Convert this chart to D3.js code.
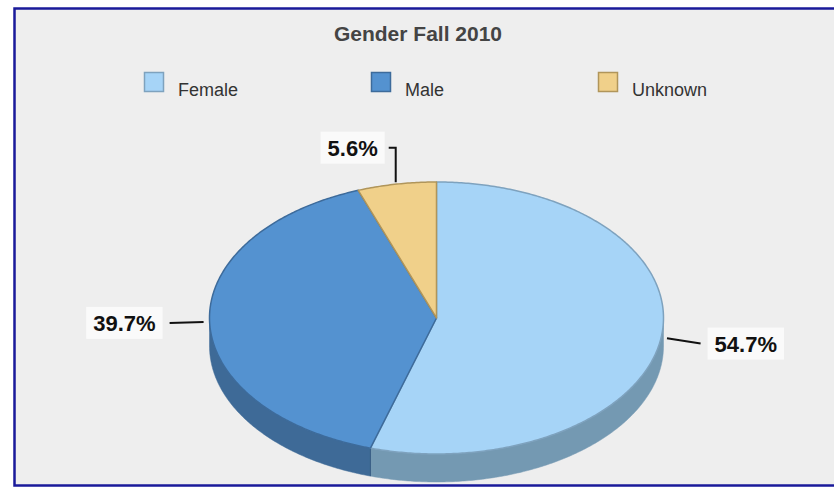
<!DOCTYPE html>
<html lang="en">
<head>
<meta charset="UTF-8">
<title>Gender Fall 2010</title>
<script src="https://cdn.jsdelivr.net/npm/d3@7"></script>
<style>
	body { margin: 0; background: #fff; }
	svg { display: block; font-family: "Liberation Sans", Arial, sans-serif; }
</style>
</head>
<body>
<div id="chart"></div>
<script>
	// data
	const categories = ['Female', 'Male', 'Unknown'];
	const shares = [54.7, 39.7, 5.6];
	const labels = ['54.7%', '39.7%', '5.6%'];

	const topColors = ['#a6d4f7', '#5492d0', '#f0d08a'];
	const sideColors = ['#7499b2', '#3e6a97', '#b89a5e'];
	const edgeColors = ['#7ea2be', '#3d6b9b', '#b0955a'];

	const width = 834, height = 488;
	const cx = 436.5, cy = 318, rx = 227, ry = 136, depth = 28;

	const svg = d3.select('#chart').append('svg')
		.attr('width', width)
		.attr('height', height);

	// frame
	svg.append('rect')
		.attr('x', 14.5).attr('y', 8.5)
		.attr('width', 840).attr('height', 477)
		.attr('fill', '#eeeeee')
		.attr('stroke', '#1a1a9a')
		.attr('stroke-width', 2.5);

	svg.append('text')
		.attr('x', 418).attr('y', 41)
		.attr('text-anchor', 'middle')
		.attr('font-size', 21).attr('font-weight', 'bold')
		.attr('fill', '#444')
		.text('Gender Fall 2010');

	// legend
	const legendX = d3.scalePoint().domain(categories).range([144, 598]);
	const lg = svg.append('g').selectAll('g').data(categories).join('g')
		.attr('transform', d => `translate(${legendX(d)},72)`);
	lg.append('rect')
		.attr('x', 0.5).attr('y', 0.5).attr('width', 19).attr('height', 19)
		.attr('fill', (d, i) => topColors[i])
		.attr('stroke', (d, i) => edgeColors[i])
		.attr('stroke-width', 1.5);
	lg.append('text')
		.attr('x', 34).attr('y', 24)
		.attr('font-size', 18).attr('fill', '#333')
		.text(d => d);

	// pie angles, clockwise from 12 o'clock
	const pie = d3.pie().sort(null).value(d => d);
	const arcs = pie(shares);

	const px = a => cx + rx * Math.sin(a);
	const py = a => cy - ry * Math.cos(a);
	const line = d3.line();

	function ellipsePts(a0, a1, dy) {
		const n = Math.max(2, Math.ceil(Math.abs(a1 - a0) / 0.01));
		return d3.range(n + 1).map(k => {
			const a = a0 + (a1 - a0) * k / n;
			return [px(a), py(a) + dy];
		});
	}

	// side walls (front half only: angles between PI/2 and 3PI/2)
	const g = svg.append('g');
	arcs.forEach((d, i) => {
		const a0 = Math.max(d.startAngle, Math.PI / 2);
		const a1 = Math.min(d.endAngle, Math.PI * 1.5);
		if (a1 <= a0) return;
		const pts = ellipsePts(a0, a1, 0).concat(ellipsePts(a1, a0, depth));
		g.append('path')
			.attr('d', line(pts) + 'Z')
			.attr('fill', sideColors[i])
			.attr('stroke', sideColors[i])
			.attr('stroke-width', 0.5);
	});
	// edge between slices on the side
	arcs.forEach((d, i) => {
		const a = d.endAngle;
		if (a > Math.PI / 2 && a < Math.PI * 1.5) {
			g.append('line')
				.attr('x1', px(a)).attr('y1', py(a))
				.attr('x2', px(a)).attr('y2', py(a) + depth)
				.attr('stroke', '#3a5f85').attr('stroke-width', 1);
		}
	});

	// top faces
	arcs.forEach((d, i) => {
		const pts = [[cx, cy]].concat(ellipsePts(d.startAngle, d.endAngle, 0));
		g.append('path')
			.attr('d', line(pts) + 'Z')
			.attr('fill', topColors[i])
			.attr('stroke', edgeColors[i])
			.attr('stroke-width', 1.5)
			.attr('stroke-linejoin', 'round');
	});

	// labels with leader lines
	const lbl = svg.append('g');
	arcs.forEach((d, i) => {
		const a = (d.startAngle + d.endAngle) / 2;
		const s = Math.sin(a), c = Math.cos(a);
		const x0 = cx + (rx + 6) * s, y0 = cy - (ry + 2) * c;
		let pts, tx, ty, anchor;
		if (Math.abs(s) > 0.5) {
			const x1 = cx + (rx + 40) * s, y1 = cy - (ry + 38) * c;
			pts = [[x0, y0], [x1, y1]];
			tx = x1 + (s > 0 ? 6 : -6); ty = y1;
			anchor = s > 0 ? 'start' : 'end';
		} else {
			const y1 = cy - (ry + 37) * c;
			const side = s < 0 ? -1 : 1;
			pts = [[x0, y0], [x0, y1], [x0 + side * 7, y1]];
			tx = x0 + side * 10; ty = y1;
			anchor = side < 0 ? 'end' : 'start';
		}
		lbl.append('path')
			.attr('d', line(pts))
			.attr('fill', 'none')
			.attr('stroke', '#111')
			.attr('stroke-width', 2);
		const t = lbl.append('text')
			.attr('x', tx + (anchor === 'start' ? 8 : -8)).attr('y', ty + 8)
			.attr('text-anchor', anchor)
			.attr('font-size', 22).attr('font-weight', 'bold')
			.attr('fill', '#111')
			.text(labels[i]);
		const bb = t.node().getBBox();
		lbl.insert('rect', () => t.node())
			.attr('x', bb.x - 7).attr('y', ty - 16)
			.attr('width', bb.width + 14).attr('height', 32)
			.attr('fill', '#fafafa');
	});
</script>
</body>
</html>
